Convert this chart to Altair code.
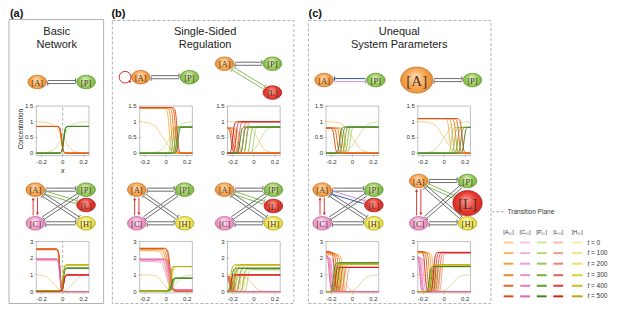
import math
import altair as alt
import pandas as pd

# ---------------- canvas geometry (reference pixel space -> chart pixels)
W, H = 600, 297
X_REF = [1, 616]
Y_REF = [2, 311]
KX = W / (X_REF[1] - X_REF[0])
KY = H / (Y_REF[1] - Y_REF[0])


def fx(v):
    return (v - X_REF[0]) * KX


def fy(v):
    return (v - Y_REF[0]) * KY


# ---------------- colours
TIMES = [0, 100, 200, 300, 400, 500]
COLOR_A = ["#f9d08c", "#f7b860", "#f59f3e", "#f0842a", "#e8691f", "#d9521a"]
COLOR_C = ["#f7c6df", "#f4b3d4", "#f0a0c9", "#ec8ebf", "#e87bb4", "#e267a9"]
COLOR_P = ["#cde5a5", "#b2d77c", "#96c75a", "#79b140", "#5e982f", "#467f22"]
COLOR_L = ["#f6b9b3", "#f29c94", "#ee7e76", "#e85e58", "#e13c39", "#d42222"]
COLOR_H = ["#f3eeb0", "#eee78c", "#e9df62", "#ded23a", "#cdbf22", "#b8a914"]
SPECIES = ["A", "C", "P", "L", "H"]
SPECIES_COLORS = {"A": COLOR_A, "C": COLOR_C, "P": COLOR_P, "L": COLOR_L, "H": COLOR_H}

# node gradient stops: centre, body, rim ; outline
NODE_GRAD = {
    "A": ("#fde0b8", "#f5a14c", "#e07f2a", "#c8742a"),
    "P": ("#e4f3cc", "#93c957", "#6aa63a", "#5f9632"),
    "L": ("#f7a49c", "#e83a30", "#c82020", "#a81c1c"),
    "C": ("#fde6f2", "#f09ccc", "#d97db2", "#c2679a"),
    "H": ("#fcf9cc", "#efe652", "#d2c832", "#b0a628"),
}

# ---------------- transition profile (offset in widths -> fraction)
PROFILE_U = [-3, -2, -1, 0, 1, 2, 3]
PROFILE_F = [0.0, 0.02, 0.12, 0.5, 0.88, 0.98, 1.0]
X_DOMAIN = [-0.25, 0.25]
X_TICKS = [-0.2, 0, 0.2]
X_TICK_LABELS = ["-0.2", "0", "0.2"]
Y_TICKS_TOP = [0, 0.5, 1, 1.5]
Y_TICK_LABELS_TOP = ["0", "0.5", "1", "1.5"]
Y_TICKS_BOT = [0, 1, 2, 3]
Y_TICK_LABELS_BOT = ["0", "1", "2", "3"]

# ---------------- curve data: species -> (left level, right level, centre, width) per t
CURVES_A_TOP = {
    "A": ([1.0, 0.85, 0.85, 0.85, 0.85, 0.85], [0, 0, 0, 0, 0, 0],
          [0.0, -0.012, -0.011, -0.01, -0.01, -0.01], [0.08, 0.014, 0.014, 0.014, 0.014, 0.014]),
    "P": ([0, 0, 0, 0, 0, 0], [1.0, 0.85, 0.85, 0.85, 0.85, 0.85],
          [0.0, 0.008, 0.009, 0.01, 0.01, 0.01], [0.08, 0.014, 0.014, 0.014, 0.014, 0.014]),
}
CURVES_B1_TOP = {
    "A": ([1.0, 1.42, 1.43, 1.44, 1.45, 1.45], [0, 0, 0, 0, 0, 0],
          [-0.03, 0.03, 0.05, 0.07, 0.09, 0.105], [0.08, 0.014, 0.014, 0.014, 0.014, 0.014]),
    "P": ([0, 0, 0, 0, 0, 0], [1.0, 0.83, 0.83, 0.83, 0.83, 0.83],
          [0.04, 0.045, 0.065, 0.085, 0.1, 0.115], [0.08, 0.012, 0.012, 0.012, 0.012, 0.012]),
}
CURVES_B2_TOP = {
    "A": ([1.0, 0.8, 0.8, 0.8, 0.8, 0.8], [0, 0, 0, 0, 0, 0],
          [0.03, -0.14, -0.16, -0.18, -0.2, -0.215], [0.07, 0.014, 0.014, 0.014, 0.014, 0.014]),
    "L": ([0, 0, 0, 0, 0, 0], [0, 1.0, 1.0, 1.0, 1.0, 1.0],
          [0.0, -0.07, -0.1, -0.14, -0.17, -0.2], [0.05, 0.014, 0.014, 0.014, 0.014, 0.014]),
    "P": ([0, 0, 0, 0, 0, 0], [0.85, 0.83, 0.83, 0.83, 0.83, 0.83],
          [0.06, 0.0, -0.035, -0.07, -0.1, -0.13], [0.06, 0.014, 0.014, 0.014, 0.014, 0.014]),
}
CURVES_C1_TOP = {
    "A": ([1.0, 0.8, 0.8, 0.8, 0.8, 0.8], [0, 0, 0, 0, 0, 0],
          [0.0, -0.07, -0.095, -0.12, -0.145, -0.17], [0.08, 0.014, 0.014, 0.014, 0.014, 0.014]),
    "P": ([0, 0, 0, 0, 0, 0], [1.0, 0.83, 0.83, 0.83, 0.83, 0.83],
          [0.05, -0.02, -0.045, -0.07, -0.095, -0.12], [0.08, 0.014, 0.014, 0.014, 0.014, 0.014]),
}
CURVES_C2_TOP = {
    "A": ([1.0, 1.1, 1.1, 1.1, 1.1, 1.1], [0, 0, 0, 0, 0, 0],
          [0.0, 0.05, 0.08, 0.11, 0.14, 0.17], [0.08, 0.014, 0.014, 0.014, 0.014, 0.014]),
    "P": ([0, 0, 0, 0, 0, 0], [1.0, 0.82, 0.82, 0.82, 0.82, 0.82],
          [0.0, 0.07, 0.1, 0.13, 0.16, 0.19], [0.08, 0.014, 0.014, 0.014, 0.014, 0.014]),
}
CURVES_A_BOT = {
    "A": ([1.0, 2.5, 2.55, 2.55, 2.55, 2.55], [0, 0, 0, 0, 0, 0],
          [-0.09, -0.028, -0.026, -0.025, -0.025, -0.025], [0.06, 0.012, 0.012, 0.012, 0.012, 0.012]),
    "C": ([0, 1.85, 1.9, 1.93, 1.95, 1.95], [0, 0, 0, 0, 0, 0],
          [0.0, -0.028, -0.026, -0.025, -0.025, -0.025], [0.06, 0.012, 0.012, 0.012, 0.012, 0.012]),
    "P": ([0, 0.05, 0.05, 0.05, 0.05, 0.05], [1.0, 1.4, 1.4, 1.4, 1.4, 1.4],
          [0.1, 0.005, 0.005, 0.005, 0.005, 0.005], [0.06, 0.012, 0.012, 0.012, 0.012, 0.012]),
    "L": ([0, 0, 0, 0, 0, 0], [0, 1.0, 1.0, 1.0, 1.0, 1.0],
          [0.0, 0.01, 0.01, 0.01, 0.01, 0.01], [0.06, 0.012, 0.012, 0.012, 0.012, 0.012]),
    "H": ([0, 0.05, 0.05, 0.05, 0.05, 0.05], [0, 1.6, 1.6, 1.6, 1.6, 1.6],
          [0.0, 0.005, 0.005, 0.005, 0.005, 0.005], [0.06, 0.012, 0.012, 0.012, 0.012, 0.012]),
}
CURVES_B1_BOT = {
    "A": ([1.0, 2.45, 2.5, 2.55, 2.58, 2.6], [0, 0.02, 0.02, 0.02, 0.02, 0.02],
          [-0.03, 0.0, 0.015, 0.025, 0.035, 0.04], [0.05, 0.035, 0.03, 0.025, 0.02, 0.018]),
    "C": ([0, 1.8, 1.85, 1.9, 1.93, 1.95], [0, 0.1, 0.1, 0.1, 0.1, 0.1],
          [0.0, 0.0, 0.015, 0.025, 0.035, 0.04], [0.05, 0.035, 0.03, 0.025, 0.02, 0.018]),
    "P": ([0, 0.05, 0.05, 0.05, 0.05, 0.05], [1.0, 0.8, 0.8, 0.8, 0.8, 0.8],
          [0.1, 0.07, 0.065, 0.06, 0.055, 0.05], [0.06, 0.012, 0.012, 0.012, 0.012, 0.012]),
    "H": ([0, 0.05, 0.05, 0.05, 0.05, 0.05], [0, 1.5, 1.5, 1.5, 1.5, 1.5],
          [0.0, 0.06, 0.055, 0.05, 0.045, 0.04], [0.05, 0.012, 0.012, 0.012, 0.012, 0.012]),
}
CURVES_B2_BOT = {
    "A": ([1.0, 0.9, 0.9, 0.9, 0.9, 0.9], [0, 0, 0, 0, 0, 0],
          [-0.02, -0.19, -0.2, -0.21, -0.22, -0.23], [0.06, 0.012, 0.012, 0.012, 0.012, 0.012]),
    "C": ([0, 0.8, 0.8, 0.8, 0.8, 0.8], [0, 0, 0, 0, 0, 0],
          [0.0, -0.2, -0.21, -0.22, -0.225, -0.23], [0.06, 0.012, 0.012, 0.012, 0.012, 0.012]),
    "H": ([0, 0, 0, 0, 0, 0], [0, 1.6, 1.6, 1.6, 1.6, 1.6],
          [0.0, -0.08, -0.12, -0.16, -0.19, -0.22], [0.05, 0.014, 0.014, 0.014, 0.014, 0.014]),
    "P": ([0, 0, 0, 0, 0, 0], [0, 1.3, 1.35, 1.38, 1.4, 1.4],
          [0.0, -0.06, -0.1, -0.14, -0.18, -0.21], [0.05, 0.014, 0.014, 0.014, 0.014, 0.014]),
    "L": ([0, 0, 0, 0, 0, 0], [0, 1.0, 1.0, 1.0, 1.0, 1.0],
          [0.0, -0.1, -0.14, -0.17, -0.2, -0.22], [0.05, 0.014, 0.014, 0.014, 0.014, 0.014]),
}
CURVES_C1_BOT = {
    "A": ([1.0, 2.2, 2.25, 2.3, 2.35, 2.4], [0, 0, 0, 0, 0, 0],
          [-0.07, -0.09, -0.11, -0.13, -0.15, -0.17], [0.05, 0.015, 0.015, 0.015, 0.015, 0.015]),
    "C": ([0, 2.0, 2.05, 2.1, 2.15, 2.2], [0, 0, 0, 0, 0, 0],
          [0.0, -0.17, -0.19, -0.2, -0.21, -0.22], [0.05, 0.013, 0.013, 0.013, 0.013, 0.013]),
    "P": ([0, 0, 0, 0, 0, 0], [1.0, 1.72, 1.72, 1.72, 1.72, 1.72],
          [0.08, -0.08, -0.105, -0.13, -0.155, -0.18], [0.06, 0.013, 0.013, 0.013, 0.013, 0.013]),
    "H": ([0, 0, 0, 0, 0, 0], [0, 1.65, 1.65, 1.65, 1.65, 1.65],
          [0.0, -0.07, -0.095, -0.12, -0.145, -0.17], [0.06, 0.013, 0.013, 0.013, 0.013, 0.013]),
    "L": ([0, 0, 0, 0, 0, 0], [0, 1.45, 1.45, 1.45, 1.45, 1.45],
          [0.0, -0.05, -0.08, -0.11, -0.14, -0.165], [0.06, 0.013, 0.013, 0.013, 0.013, 0.013]),
}
CURVES_C2_BOT = {
    "A": ([1.0, 2.3, 2.35, 2.38, 2.4, 2.4], [0, 0, 0, 0, 0, 0],
          [-0.08, -0.1, -0.12, -0.14, -0.16, -0.18], [0.05, 0.013, 0.013, 0.013, 0.013, 0.013]),
    "C": ([0, 2.0, 2.05, 2.1, 2.1, 2.1], [0, 0, 0, 0, 0, 0],
          [0.0, -0.18, -0.195, -0.21, -0.22, -0.23], [0.05, 0.012, 0.012, 0.012, 0.012, 0.012]),
    "L": ([0, 0, 0, 0, 0, 0], [0, 2.3, 2.32, 2.33, 2.35, 2.35],
          [0.0, -0.02, -0.04, -0.06, -0.08, -0.1], [0.05, 0.013, 0.013, 0.013, 0.013, 0.013]),
    "P": ([0, 0, 0, 0, 0, 0], [1.0, 1.5, 1.5, 1.5, 1.5, 1.5],
          [0.08, -0.05, -0.075, -0.1, -0.12, -0.14], [0.06, 0.013, 0.013, 0.013, 0.013, 0.013]),
    "H": ([0, 0, 0, 0, 0, 0], [0, 1.6, 1.6, 1.6, 1.6, 1.6],
          [0.0, -0.04, -0.065, -0.09, -0.11, -0.13], [0.06, 0.013, 0.013, 0.013, 0.013, 0.013]),
}

# ---------------- subplot layout (reference pixels)
PLOT_X = {"a": (30, 84), "b1": (136, 190), "b2": (226, 280), "c1": (327, 381), "c2": (421, 475)}
ROWS = {
    "top": ([-0.08, 1.5], (155.6, 104), Y_TICKS_TOP, Y_TICK_LABELS_TOP),
    "bot": ([-0.08, 3.0], (298.4, 245), Y_TICKS_BOT, Y_TICK_LABELS_BOT),
}
SUBPLOTS = [
    ("a", "top", CURVES_A_TOP, True), ("b1", "top", CURVES_B1_TOP, False),
    ("b2", "top", CURVES_B2_TOP, False), ("c1", "top", CURVES_C1_TOP, False),
    ("c2", "top", CURVES_C2_TOP, False),
    ("a", "bot", CURVES_A_BOT, True), ("b1", "bot", CURVES_B1_BOT, False),
    ("b2", "bot", CURVES_B2_BOT, False), ("c1", "bot", CURVES_C1_BOT, False),
    ("c2", "bot", CURVES_C2_BOT, False),
]

# ---------------- network diagrams: (name, x, y, rx, ry)
R0 = (9.5, 7.0)
DIAGRAMS = [
    ([("A", 31, 79) + R0, ("P", 81, 79) + R0], [("A", "P", "gray")]),
    ([("A", 137, 74) + R0, ("P", 187, 74) + R0], [("A", "P", "gray")]),
    ([("A", 223, 60) + R0, ("P", 272, 60) + R0, ("L", 272, 90) + R0],
     [("A", "P", "gray"), ("A", "L", "green")]),
    ([("A", 325, 77) + R0, ("P", 378, 77) + R0], [("A", "P", "bv")]),
    ([("A", 420, 77, 16.5, 13.5), ("P", 477, 77) + R0], [("A", "P", "gray")]),
    ([("A", 29, 191) + R0, ("P", 81, 191) + R0, ("L", 81, 207) + R0, ("C", 29, 226) + R0, ("H", 81, 226) + R0],
     [("A", "P", "gray"), ("A", "L", "green"), ("A", "H", "gray"), ("C", "P", "gray"), ("C", "H", "gray"), ("A", "C", "red")]),
    ([("A", 133, 191) + R0, ("P", 182, 191) + R0, ("C", 133, 226) + R0, ("H", 182, 226) + R0],
     [("A", "P", "gray"), ("A", "H", "gray"), ("C", "P", "gray"), ("C", "H", "gray"), ("A", "C", "red")]),
    ([("A", 223, 191) + R0, ("P", 273, 191) + R0, ("L", 273, 208) + R0, ("C", 223, 226) + R0, ("H", 273, 226) + R0],
     [("A", "P", "gray"), ("A", "L", "green"), ("A", "H", "gray"), ("C", "P", "gray"), ("C", "H", "gray")]),
    ([("A", 323, 191) + R0, ("P", 376, 191) + R0, ("L", 376, 207) + R0, ("C", 323, 226) + R0, ("H", 376, 226) + R0],
     [("A", "P", "gray"), ("A", "L", "vb"), ("A", "H", "gray"), ("C", "P", "gray"), ("C", "H", "gray"), ("A", "C", "red")]),
    ([("A", 422, 182) + R0, ("P", 472, 182) + R0, ("L", 472, 205, 15, 13), ("C", 422, 226) + R0, ("H", 472, 226) + R0],
     [("A", "P", "gray"), ("A", "L", "green"), ("A", "H", "gray"), ("C", "P", "gray"), ("C", "H", "gray"), ("A", "C", "red")]),
]
SELF_LOOP = (121, 74, 6)

GRAY, GREEN, BLUE, VIOLET, RED = "#666666", "#86b556", "#2a4f9e", "#c489d8", "#d83030"
EDGE_STYLES = {  # (upper colour, upper bar at end, lower colour, lower bar at end)
    "gray": (GRAY, True, GRAY, False),
    "green": (GREEN, True, GREEN, False),
    "bv": (BLUE, False, VIOLET, True),
    "vb": (VIOLET, True, BLUE, False),
}

# ---------------- texts
PANEL_LABELS = [(3, 8, "(a)"), (107, 8, "(b)"), (309, 8, "(c)")]
TITLES = [(51, 27, "Basic"), (51, 41, "Network"), (203, 27, "Single-Sided"),
          (203, 41, "Regulation"), (402, 27, "Unequal"), (402, 41, "System Parameters")]
BORDERS_SOLID = [(2, 14, 99, 309.5)]
BORDERS_DASHED = [(108, 15, 294, 309.5), (309, 15, 496, 309.5)]

LEG_HEAD_Y = 235
LEG_ROWS_Y = [246, 257, 268, 280, 291, 302]
LEG_COL_X = [(509, 519), (526, 536), (543, 553), (560, 570), (579, 590)]
LEG_HEADERS = ["[Aₛₛ]", "[Cₛₛ]", "[Pₛₛ]", "[Lₛₛ]", "[Hₛₛ]"]
LEG_T_X = 595
PLANE_Y = 214

FONT = "Liberation Sans"
SERIF = "Liberation Serif"

# ================= build canvas layer
CXS = alt.Scale(domain=X_REF, range=[0, W], nice=False, zero=False)
CYS = alt.Scale(domain=Y_REF, range=[0, H], nice=False, zero=False)


def cx(f="x"):
    return alt.X(f + ":Q", scale=CXS, axis=None)


def cy(f="y"):
    return alt.Y(f + ":Q", scale=CYS, axis=None)


def ellipse_path(aspect):
    k = 0.5523
    r = aspect
    return (f"M 1 0 C 1 {k*r:.4f} {k:.4f} {r:.4f} 0 {r:.4f} "
            f"C {-k:.4f} {r:.4f} -1 {k*r:.4f} -1 0 "
            f"C -1 {-k*r:.4f} {-k:.4f} {-r:.4f} 0 {-r:.4f} "
            f"C {k:.4f} {-r:.4f} 1 {-k*r:.4f} 1 0 Z")


segs, heads, nodes = [], [], []
GAP, OFF, BAR, LW = 1.2, 1.6, 2.3, 0.95


def ell_dist(rx, ry, ux, uy):
    return 1.0 / math.sqrt((ux / rx) ** 2 + (uy / ry) ** 2)


for node_list, edges in DIAGRAMS:
    nd = {n[0]: n for n in node_list}
    for a, b, kind in edges:
        _, x1, y1, rx1, ry1 = nd[a]
        _, x2, y2, rx2, ry2 = nd[b]
        if kind == "red":
            top = y1 + ry1 + GAP
            bot = y2 - ry2 - GAP
            for sign, up in [(-1, True), (1, False)]:
                xx = x1 + sign * 2.2
                segs.append((xx, top + (1.5 if up else 0), xx, bot - (0 if up else 1.5), RED, LW))
                heads.append((xx, top + 1.5 if up else bot - 1.5, "triangle-up" if up else "triangle-down", RED))
            continue
        dx, dy = x2 - x1, y2 - y1
        L = math.hypot(dx, dy)
        ux, uy = dx / L, dy / L
        px, py = -uy, ux
        s = ell_dist(rx1, ry1, ux, uy) + GAP
        e = L - ell_dist(rx2, ry2, ux, uy) - GAP
        sx_, sy_ = x1 + ux * s, y1 + uy * s
        ex_, ey_ = x1 + ux * e, y1 + uy * e
        cu, bu, cl, bl = EDGE_STYLES[kind]
        for sign, col, bar_end in [(-1, cu, bu), (1, cl, bl)]:
            ox, oy = sign * OFF * px, sign * OFF * py
            segs.append((sx_ + ox, sy_ + oy, ex_ + ox, ey_ + oy, col, LW))
            bx, by = (ex_ + ox, ey_ + oy) if bar_end else (sx_ + ox, sy_ + oy)
            segs.append((bx - BAR * px, by - BAR * py, bx + BAR * px, by + BAR * py, col, LW))
    for name, x, y, rx, ry in node_list:
        wpx, hpx = 2 * rx * KX, 2 * ry * KY
        nodes.append(dict(name=name, x=x, y=y, size=wpx * wpx, shape=ellipse_path(hpx / wpx),
                          label=f"[{name}]", fs=(15 if rx > 12 else 8.5)))

# self-loop arrowhead
heads.append((126.5, 78.5, "triangle-right", RED))

# legend lines
for ri, yy in enumerate(LEG_ROWS_Y):
    for ci, (xa, xb) in enumerate(LEG_COL_X):
        segs.append((xa, yy, xb, yy, SPECIES_COLORS[SPECIES[ci]][ri], 2.0))

seg_df = pd.DataFrame(segs, columns=["x", "y", "x2", "y2", "color", "w"])
head_df = pd.DataFrame(heads, columns=["x", "y", "shape", "color"])
node_df = pd.DataFrame(nodes)

canvas_layers = []
canvas_layers.append(
    alt.Chart(pd.DataFrame(BORDERS_SOLID, columns=["x", "y", "x2", "y2"]))
    .mark_rect(fillOpacity=0, stroke="#a8a8a8", strokeWidth=0.9)
    .encode(x=cx(), y=cy(), x2="x2:Q", y2="y2:Q"))
canvas_layers.append(
    alt.Chart(pd.DataFrame(BORDERS_DASHED, columns=["x", "y", "x2", "y2"]))
    .mark_rect(fillOpacity=0, stroke="#a8a8a8", strokeWidth=0.9, strokeDash=[3, 2])
    .encode(x=cx(), y=cy(), x2="x2:Q", y2="y2:Q"))
canvas_layers.append(
    alt.Chart(seg_df).mark_rule(strokeCap="butt")
    .encode(x=cx(), y=cy(), x2="x2:Q", y2="y2:Q",
            color=alt.Color("color:N", scale=None), strokeWidth=alt.StrokeWidth("w:Q", scale=None)))
canvas_layers.append(
    alt.Chart(pd.DataFrame([SELF_LOOP], columns=["x", "y", "r"]))
    .mark_point(shape="circle", filled=False, stroke=RED, strokeWidth=1, opacity=1,
                size=(2 * SELF_LOOP[2] * KX) ** 2)
    .encode(x=cx(), y=cy()))
canvas_layers.append(
    alt.Chart(head_df).mark_point(filled=True, opacity=1, size=10)
    .encode(x=cx(), y=cy(), shape=alt.Shape("shape:N", scale=None),
            color=alt.Color("color:N", scale=None)))
for sp, (c0, c1, c2, cs) in NODE_GRAD.items():
    sub = node_df[node_df["name"] == sp]
    if len(sub) == 0:
        continue
    grad = alt.RadialGradient(
        gradient="radial", x1=0.45, y1=0.4, r1=0.0, x2=0.5, y2=0.5, r2=0.6,
        stops=[alt.GradientStop(color=c0, offset=0), alt.GradientStop(color=c1, offset=0.55),
               alt.GradientStop(color=c2, offset=1)])
    canvas_layers.append(
        alt.Chart(sub).mark_point(filled=True, opacity=1, fill=grad, stroke=cs, strokeWidth=0.8)
        .encode(x=cx(), y=cy(), shape=alt.Shape("shape:N", scale=None),
                size=alt.Size("size:Q", scale=None)))
canvas_layers.append(
    alt.Chart(node_df).mark_text(font=SERIF, color="#4a3322", baseline="middle", align="center", dy=0.5)
    .encode(x=cx(), y=cy(), text="label:N", size=alt.Size("fs:Q", scale=None)))
canvas_layers.append(
    alt.Chart(pd.DataFrame(PANEL_LABELS, columns=["x", "y", "t"]))
    .mark_text(font=FONT, fontSize=11, fontWeight="bold", align="left", baseline="middle", color="#111")
    .encode(x=cx(), y=cy(), text="t:N"))
canvas_layers.append(
    alt.Chart(pd.DataFrame(TITLES, columns=["x", "y", "t"]))
    .mark_text(font=FONT, fontSize=11, align="center", baseline="middle", color="#222")
    .encode(x=cx(), y=cy(), text="t:N"))
canvas_layers.append(
    alt.Chart(pd.DataFrame([(14, 128, "Concentration")], columns=["x", "y", "t"]))
    .mark_text(font=FONT, fontSize=6.5, align="center", baseline="middle", angle=270, color="#222")
    .encode(x=cx(), y=cy(), text="t:N"))
canvas_layers.append(
    alt.Chart(pd.DataFrame([(57, 172, "x")], columns=["x", "y", "t"]))
    .mark_text(font=FONT, fontSize=7, fontStyle="italic", align="center", baseline="middle", color="#222")
    .encode(x=cx(), y=cy(), text="t:N"))
# legend texts
head_txt = [((a + b) / 2, LEG_HEAD_Y, t) for (a, b), t in zip(LEG_COL_X, LEG_HEADERS)]
canvas_layers.append(
    alt.Chart(pd.DataFrame(head_txt, columns=["x", "y", "t"]))
    .mark_text(font=FONT, fontSize=5.5, align="center", baseline="middle", color="#333")
    .encode(x=cx(), y=cy(), text="t:N"))
canvas_layers.append(
    alt.Chart(pd.DataFrame([(LEG_T_X, yy, "t") for yy in LEG_ROWS_Y], columns=["x", "y", "t"]))
    .mark_text(font=FONT, fontSize=6.5, fontStyle="italic", align="left", baseline="middle", color="#333")
    .encode(x=cx(), y=cy(), text="t:N"))
canvas_layers.append(
    alt.Chart(pd.DataFrame([(LEG_T_X + 3.5, yy, f"= {t}") for yy, t in zip(LEG_ROWS_Y, TIMES)],
                           columns=["x", "y", "t"]))
    .mark_text(font=FONT, fontSize=6.5, align="left", baseline="middle", color="#333")
    .encode(x=cx(), y=cy(), text="t:N"))
canvas_layers.append(
    alt.Chart(pd.DataFrame([(497, PLANE_Y, 509, PLANE_Y)], columns=["x", "y", "x2", "y2"]))
    .mark_rule(color="#9a9a9a", strokeWidth=1, strokeDash=[2.5, 2])
    .encode(x=cx(), y=cy(), x2="x2:Q", y2="y2:Q"))
canvas_layers.append(
    alt.Chart(pd.DataFrame([(513, PLANE_Y, "Transition Plane")], columns=["x", "y", "t"]))
    .mark_text(font=FONT, fontSize=6.5, align="left", baseline="middle", color="#333")
    .encode(x=cx(), y=cy(), text="t:N"))

canvas = alt.layer(*canvas_layers)


# ================= subplots
def curve_rows(curves):
    rows = []
    for ti, t in enumerate(TIMES):
        for sp in SPECIES:
            if sp not in curves:
                continue
            left, right, center, width = (curves[sp][k][ti] for k in range(4))
            if left == right:
                pts = [(-0.25, left), (0.25, left)]
            else:
                knots = [(center + u * width, left + (right - left) * f) for u, f in zip(PROFILE_U, PROFILE_F)]
                inside = [(x, y) for x, y in knots if -0.25 < x < 0.25]
                before = [y for x, y in knots if x <= -0.25]
                after = [y for x, y in knots if x >= 0.25]
                pts = [(-0.25, before[-1] if before else left)] + inside + \
                      [(0.25, after[0] if after else right)]
            for k, (x, y) in enumerate(pts):
                rows.append(dict(id=f"{sp}{t}", x=x, y=y, color=SPECIES_COLORS[sp][ti], k=k))
    return rows


def subplot(key, row, curves, plane):
    x0, x1 = PLOT_X[key]
    ydom, (yb, yt), yticks, ylabels = ROWS[row]
    sx = alt.Scale(domain=X_DOMAIN, range=[fx(x0), fx(x1)], nice=False, zero=False)
    sy = alt.Scale(domain=ydom, range=[fy(yb), fy(yt)], nice=False, zero=False)

    def X(f):
        return alt.X(f, scale=sx, axis=None)

    def Y(f):
        return alt.Y(f, scale=sy, axis=None)

    frame_df = pd.DataFrame([dict(x0=X_DOMAIN[0], x1=X_DOMAIN[1], y0=ydom[0], y1=ydom[1])])
    layers = [alt.Chart(frame_df).mark_rect(fillOpacity=0, stroke="#b0b0b0", strokeWidth=0.8).encode(
        x=X("x0:Q"), x2="x1:Q", y=Y("y0:Q"), y2="y1:Q")]
    xt = pd.DataFrame(dict(v=X_TICKS, lab=X_TICK_LABELS, base=ydom[0], left=X_DOMAIN[0]))
    yt_df = pd.DataFrame(dict(v=yticks, lab=ylabels, base=ydom[0], left=X_DOMAIN[0]))
    layers.append(alt.Chart(xt).mark_tick(orient="vertical", size=3, thickness=0.7, color="#a0a0a0")
                  .encode(x=X("v:Q"), y=Y("base:Q")))
    layers.append(alt.Chart(xt).mark_text(font=FONT, fontSize=6, color="#333", baseline="top", dy=3)
                  .encode(x=X("v:Q"), y=Y("base:Q"), text="lab:N"))
    layers.append(alt.Chart(yt_df).mark_tick(orient="horizontal", size=3, thickness=0.7, color="#a0a0a0")
                  .encode(x=X("left:Q"), y=Y("v:Q")))
    layers.append(alt.Chart(yt_df).mark_text(font=FONT, fontSize=6, color="#333", align="right",
                                             baseline="middle", dx=-3)
                  .encode(x=X("left:Q"), y=Y("v:Q"), text="lab:N"))
    if plane:
        plane_df = pd.DataFrame([dict(x=0.0, y0=ydom[0], y1=ydom[1])])
        layers.append(alt.Chart(plane_df).mark_rule(color="#9a9a9a", strokeWidth=0.8, strokeDash=[3, 2]).encode(
            x=X("x:Q"), y=Y("y0:Q"), y2="y1:Q"))
    layers.append(alt.Chart(pd.DataFrame(curve_rows(curves))).mark_line(
        interpolate="monotone", strokeWidth=1).encode(
        x=X("x:Q"), y=Y("y:Q"),
        color=alt.Color("color:N", scale=None), detail="id:N", order="k:Q"))
    return alt.layer(*layers)


subs = [subplot(*s) for s in SUBPLOTS]

chart = (
    alt.layer(canvas, *subs)
    .resolve_scale(x="independent", y="independent")
    .properties(width=W, height=H, padding=0, autosize=alt.AutoSizeParams(type="none"))
    .configure_view(strokeWidth=0)
)

chart.save("out.html", embed_options={"renderer": "svg", "actions": False})
